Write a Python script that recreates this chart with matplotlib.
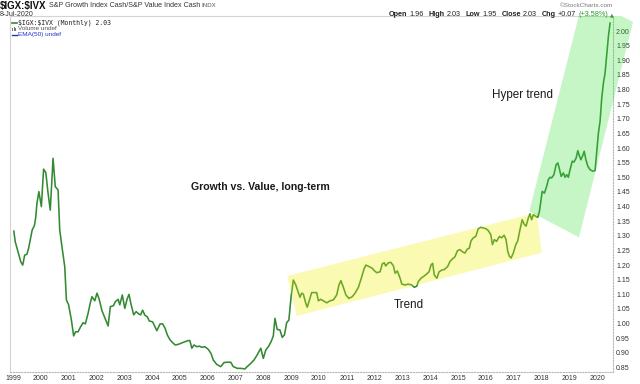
import matplotlib
matplotlib.use('Agg')
import matplotlib.pyplot as plt
from matplotlib.patches import Polygon, Rectangle
from matplotlib.offsetbox import TextArea, HPacker, AnnotationBbox
from matplotlib.lines import Line2D

plt.rcParams['font.family'] = ['Liberation Sans', 'DejaVu Sans']

# ---------------- data ----------------
dates = [1999.03, 1999.08, 1999.18, 1999.28, 1999.35, 1999.42, 1999.50, 1999.56, 1999.64, 1999.69,
         1999.77, 1999.82, 1999.86, 1999.93, 2000.02, 2000.10, 2000.18, 2000.26, 2000.34, 2000.44,
         2000.52, 2000.62, 2000.68, 2000.76, 2000.86, 2000.92, 2001.00, 2001.10, 2001.18, 2001.25,
         2001.34, 2001.43, 2001.52, 2001.60, 2001.70, 2001.78, 2001.84, 2001.94, 2002.02, 2002.09,
         2002.20, 2002.30, 2002.42, 2002.50, 2002.61, 2002.68, 2002.78, 2002.84, 2002.93, 2003.02,
         2003.10, 2003.17, 2003.25, 2003.34, 2003.43, 2003.52, 2003.59, 2003.66, 2003.74, 2003.83,
         2003.90, 2004.02, 2004.17, 2004.29, 2004.38, 2004.47, 2004.55, 2004.65, 2004.74, 2004.83,
         2004.94, 2005.07, 2005.18, 2005.30, 2005.36, 2005.43, 2005.51, 2005.61, 2005.70, 2005.79,
         2005.90, 2006.02, 2006.12, 2006.20, 2006.32, 2006.47, 2006.59, 2006.71, 2006.83, 2006.92,
         2007.07, 2007.20, 2007.34, 2007.42, 2007.55, 2007.67, 2007.78, 2007.91, 2008.00, 2008.09,
         2008.18, 2008.28, 2008.36, 2008.42, 2008.50, 2008.60, 2008.68, 2008.76, 2008.84, 2008.92,
         2009.00, 2009.08, 2009.17, 2009.26, 2009.32, 2009.38, 2009.44, 2009.53, 2009.58, 2009.64,
         2009.74, 2009.83, 2009.92, 2009.98, 2010.06, 2010.16, 2010.28, 2010.40, 2010.52, 2010.64,
         2010.72, 2010.79, 2010.88, 2010.97, 2011.08, 2011.20, 2011.30, 2011.42, 2011.54, 2011.63,
         2011.69, 2011.80, 2011.92, 2011.99, 2012.08, 2012.20, 2012.28, 2012.35, 2012.40, 2012.50,
         2012.59, 2012.68, 2012.74, 2012.82, 2012.92, 2012.98, 2013.10, 2013.21, 2013.34, 2013.43,
         2013.52, 2013.57, 2013.67, 2013.79, 2013.88, 2013.96, 2014.03, 2014.09, 2014.15, 2014.24,
         2014.32, 2014.42, 2014.51, 2014.63, 2014.71, 2014.81, 2014.89, 2014.98, 2015.07, 2015.17,
         2015.25, 2015.34, 2015.41, 2015.47, 2015.55, 2015.64, 2015.73, 2015.82, 2015.91, 2016.01,
         2016.09, 2016.18, 2016.24, 2016.31, 2016.39, 2016.49, 2016.57, 2016.66, 2016.73, 2016.79,
         2016.85, 2016.91, 2016.99, 2017.08, 2017.15, 2017.23, 2017.31, 2017.38, 2017.45, 2017.53,
         2017.59, 2017.65, 2017.71, 2017.81, 2017.87, 2017.93, 2017.99, 2018.03, 2018.11, 2018.19,
         2018.25, 2018.31, 2018.37, 2018.45, 2018.53, 2018.59, 2018.64, 2018.71, 2018.79, 2018.85,
         2018.91, 2018.97, 2019.03, 2019.11, 2019.17, 2019.25, 2019.31, 2019.36, 2019.42, 2019.49,
         2019.54, 2019.60, 2019.67, 2019.75, 2019.85, 2019.93, 2019.99, 2020.05, 2020.11, 2020.17,
         2020.23, 2020.29, 2020.35, 2020.41, 2020.47]

ratio = [1.316, 1.280, 1.246, 1.211, 1.200, 1.234, 1.237, 1.257, 1.295, 1.320,
         1.335, 1.365, 1.411, 1.451, 1.400, 1.528, 1.516, 1.446, 1.388, 1.565,
         1.468, 1.457, 1.320, 1.263, 1.195, 1.081, 1.064, 1.012, 0.958, 0.972,
         0.972, 0.989, 1.003, 0.999, 1.035, 1.071, 1.092, 1.078, 1.104, 1.086,
         1.044, 1.020, 0.992, 1.058, 1.061, 1.075, 1.083, 1.064, 1.098, 1.052,
         1.083, 1.100, 1.064, 1.030, 1.041, 1.033, 1.030, 1.046, 1.029, 1.023,
         1.009, 1.006, 0.976, 0.999, 0.999, 0.984, 0.961, 0.944, 0.935, 0.927,
         0.929, 0.934, 0.938, 0.942, 0.942, 0.916, 0.927, 0.921, 0.923, 0.919,
         0.921, 0.912, 0.898, 0.876, 0.861, 0.853, 0.867, 0.868, 0.868, 0.853,
         0.847, 0.847, 0.845, 0.853, 0.864, 0.876, 0.893, 0.916, 0.881, 0.910,
         0.921, 0.938, 0.958, 1.018, 0.980, 0.978, 0.953, 0.961, 1.003, 1.012,
         1.092, 1.149, 1.132, 1.106, 1.090, 1.104, 1.101, 1.069, 1.056, 1.075,
         1.106, 1.106, 1.106, 1.078, 1.083, 1.078, 1.071, 1.078, 1.081, 1.098,
         1.132, 1.147, 1.124, 1.098, 1.086, 1.092, 1.104, 1.124, 1.160, 1.189,
         1.200, 1.195, 1.189, 1.181, 1.174, 1.177, 1.204, 1.208, 1.197, 1.208,
         1.209, 1.197, 1.172, 1.180, 1.155, 1.135, 1.132, 1.135, 1.132, 1.124,
         1.128, 1.143, 1.155, 1.163, 1.170, 1.177, 1.200, 1.206, 1.166, 1.155,
         1.177, 1.183, 1.185, 1.195, 1.212, 1.222, 1.228, 1.249, 1.253, 1.245,
         1.241, 1.255, 1.258, 1.283, 1.293, 1.298, 1.324, 1.329, 1.327, 1.324,
         1.318, 1.304, 1.270, 1.287, 1.281, 1.298, 1.293, 1.302, 1.287, 1.247,
         1.230, 1.224, 1.241, 1.270, 1.283, 1.321, 1.355, 1.340, 1.333, 1.361,
         1.375, 1.355, 1.372, 1.366, 1.363, 1.384, 1.424, 1.452, 1.446, 1.469,
         1.492, 1.500, 1.498, 1.509, 1.543, 1.549, 1.532, 1.503, 1.515, 1.500,
         1.509, 1.500, 1.526, 1.555, 1.552, 1.566, 1.591, 1.575, 1.560, 1.575,
         1.589, 1.560, 1.538, 1.526, 1.521, 1.523, 1.589, 1.651, 1.691, 1.771,
         1.822, 1.856, 1.919, 1.982, 2.027]

year_ticks = list(range(1999, 2021))
year_labels = [str(y) for y in year_ticks]
value_ticks = [0.85 + 0.05 * i for i in range(24)]
value_labels = ['%.2f' % v for v in value_ticks]

# channel annotations (data coordinates: year, ratio)
trend_band = [(2008.86, 1.163), (2009.20, 1.026), (2018.01, 1.242), (2017.83, 1.379)]
hyper_band = [(2017.565, 1.384), (2019.352, 1.295), (2021.294, 2.031), (2020.881, 2.0513), (2019.345, 2.0513)]

# ---------------- styling ----------------
W, H = 640, 384
LINE = '#338a33'
fig = plt.figure(figsize=(6.4, 3.84), dpi=100)


def fx(x):
    return x / W


def fy(y):
    return 1 - y / H


ax = fig.add_axes([fx(10), fy(372), (613 - 10) / W, (372 - 16) / H])
ax.set_xlim(1998.892, 2020.575)
ax.set_ylim(0.8346, 2.0513)

ax.plot(dates, ratio, color=LINE, lw=1.15, zorder=2, solid_joinstyle='round')

ax.add_patch(Polygon(trend_band, closed=True, facecolor='#f0f000', alpha=0.3,
                     edgecolor='none', zorder=3))
ax.add_patch(Polygon(hyper_band, closed=True, facecolor='#33dd33', alpha=0.28,
                     edgecolor='none', zorder=3, clip_on=False))

ax.set_xticks(year_ticks)
ax.set_xticklabels(year_labels)
ax.set_yticks(value_ticks)
ax.set_yticklabels(value_labels)
ax.yaxis.tick_right()
ax.tick_params(axis='x', length=0, pad=2.0, labelsize=5, colors='#333333')
ax.tick_params(axis='y', length=0, pad=2.2, labelsize=5, colors='#333333')
for lab in ax.get_yticklabels():
    lab.set_zorder(5)

for side in ('left', 'top'):
    ax.spines[side].set_color('#d4d4d4')
    ax.spines[side].set_linewidth(0.8)
for side in ('right', 'bottom'):
    ax.spines[side].set_color('#b8b8b8')
    ax.spines[side].set_linewidth(0.8)
    ax.spines[side].set_linestyle((0, (1, 1.5)))

# annotations on chart
fig.text(fx(260.5), fy(187), 'Growth vs. Value, long-term', fontsize=7.6, fontweight='bold',
         ha='center', va='center', color='#1a1a1a')
fig.text(fx(523), fy(95), 'Hyper trend', fontsize=8.4, ha='center', va='center', color='#1a1a1a')
fig.text(fx(409), fy(305), 'Trend', fontsize=8.4, ha='center', va='center', color='#1a1a1a')

# header (left)
fig.text(fx(0), fy(5.5), r'\$IGX:\$IVX', fontsize=7, fontweight='bold', ha='left', va='center',
         color='#111111')
fig.text(fx(49), fy(5.5), 'S&P Growth Index Cash/S&P Value Index Cash', fontsize=5.1,
         ha='left', va='center', color='#333333')
fig.text(fx(201), fy(5.8), 'INDX', fontsize=4.4, ha='left', va='center', color='#555555')
fig.text(fx(0), fy(14.8), '8-Jul-2020', fontsize=5.1, ha='left', va='center', color='#333333')

# legend lines
fig.add_artist(Line2D([fx(12), fx(16.5)], [fy(22.5), fy(22.5)], color=LINE, lw=1.2))
fig.text(fx(17.5), fy(22.5), r'\$IGX:\$IVX (Monthly) 2.03', fontsize=4.7, family='DejaVu Sans Mono',
         ha='left', va='center', color='#222222')
for i, hh in enumerate([2.0, 3.5, 2.5]):
    fig.add_artist(Rectangle((fx(12 + i * 1.5), fy(30.5)), 1 / W, hh / H, color='#777777', lw=0))
fig.text(fx(17.5), fy(28.8), 'Volume undef', fontsize=4.6, ha='left', va='center', color='#555555')
fig.add_artist(Line2D([fx(12), fx(16.5)], [fy(34.8), fy(34.8)], color='#2233cc', lw=1.0))
fig.text(fx(17.5), fy(34.8), 'EMA(50) undef', fontsize=4.6, ha='left', va='center', color='#2233cc')

# header (right)
fig.text(fx(613), fy(5.5), '\u00a9StockCharts.com', fontsize=4.6, ha='right', va='center',
         color='#777777')


def ta(s, bold=False, color='#222222'):
    return TextArea(s, textprops=dict(fontsize=5.2, fontweight='bold' if bold else 'normal',
                                      color=color))


pairs = [('Open', '1.96'), ('High', '2.03'), ('Low', '1.95'), ('Close', '2.03')]
children = [HPacker(children=[ta(a, True), ta(b)], sep=1.5, pad=0, align='baseline') for a, b in pairs]
children.append(HPacker(children=[ta('Chg', True), ta('+0.07'), ta('(+3.58%)', color='#2a9a2a'),
                                  TextArea('\u25b2', textprops=dict(fontsize=3.5, color='#2a9a2a',
                                                                     family='DejaVu Sans'))],
                        sep=1.5, pad=0, align='baseline'))
box = HPacker(children=children, sep=3.5, pad=0, align='baseline')
ab = AnnotationBbox(box, (fx(614), fy(14.7)), xycoords='figure fraction', box_alignment=(1, 0.5),
                    frameon=False, pad=0)
fig.add_artist(ab)

fig.savefig('out.png', dpi=100)
